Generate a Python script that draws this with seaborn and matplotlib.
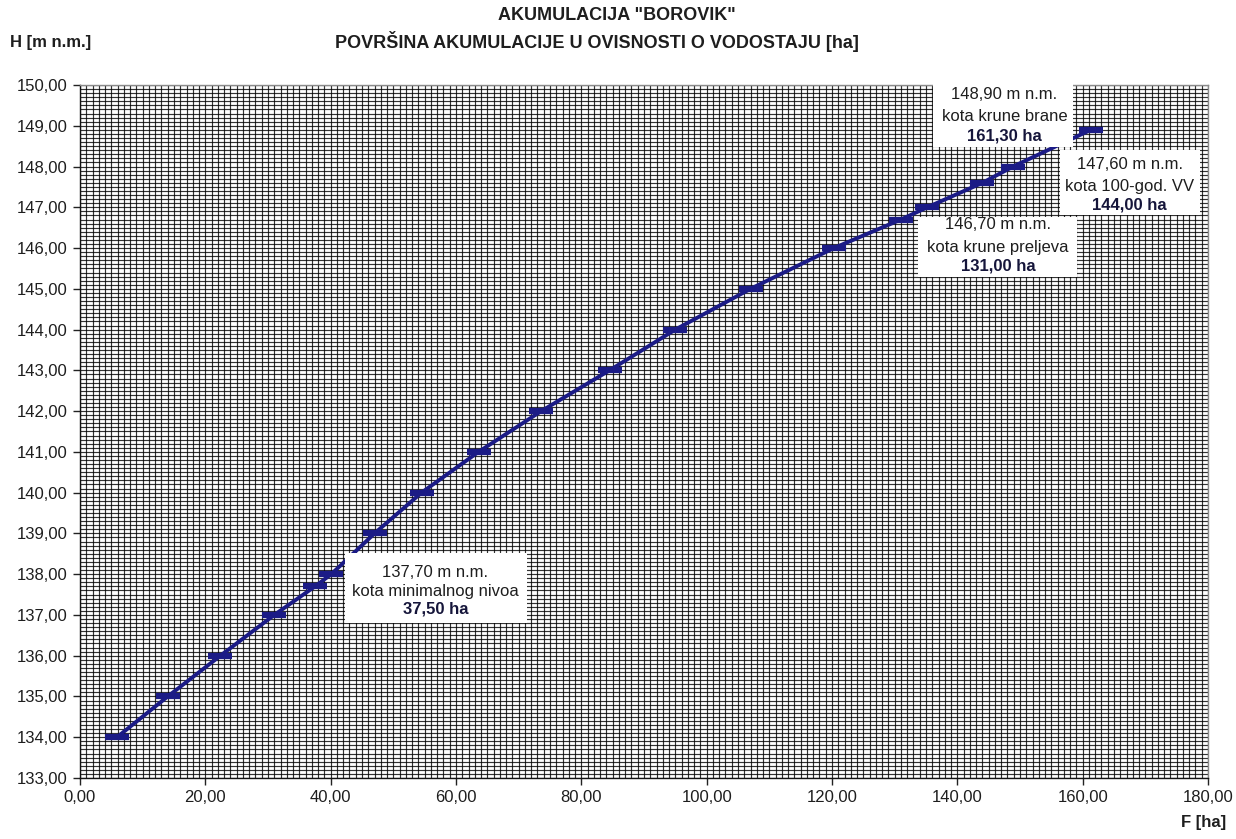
import numpy as np
import matplotlib
matplotlib.use("Agg")
import matplotlib.pyplot as plt
from matplotlib.patches import Rectangle
from matplotlib.ticker import FuncFormatter, MultipleLocator
import seaborn as sns

# Reservoir surface area (ha) versus water level (m a.s.l.)
level_m = [134.0, 135.0, 136.0, 137.0, 137.7, 138.0, 139.0, 140.0, 141.0, 142.0,
           143.0, 144.0, 145.0, 146.0, 146.7, 147.0, 147.6, 148.0, 148.9]
area_ha = [5.9, 14.0, 22.4, 31.0, 37.5, 40.1, 47.0, 54.5, 63.6, 73.6,
           84.5, 95.0, 107.0, 120.3, 131.0, 135.2, 144.0, 148.9, 161.3]

# Characteristic levels shown in the callouts
note_level = ["148,90 m n.m.", "147,60 m n.m.", "146,70 m n.m.", "137,70 m n.m."]
note_name = ["kota krune brane", "kota 100-god. VV", "kota krune preljeva", "kota minimalnog nivoa"]
note_area = ["161,30 ha", "144,00 ha", "131,00 ha", "37,50 ha"]

title = 'AKUMULACIJA "BOROVIK"'
subtitle = "POVRŠINA AKUMULACIJE U OVISNOSTI O VODOSTAJU [ha]"
y_label = "H [m n.m.]"
x_label = "F [ha]"

NAVY = "#1b1b86"
TXT = "#1e1e1e"

sns.set_theme(style="white")
plt.rcParams["font.family"] = ["Liberation Sans", "DejaVu Sans"]

fig = plt.figure(figsize=(12.36, 8.39), dpi=100)
W, H = 1236, 839
ax = fig.add_axes([80 / W, 1 - 778 / H, (1208 - 80) / W, (778 - 85) / H])

ax.set_xlim(0, 180)
ax.set_ylim(133, 150)
ax.xaxis.set_major_locator(MultipleLocator(20))
ax.yaxis.set_major_locator(MultipleLocator(1))
ax.xaxis.set_minor_locator(MultipleLocator(1))
ax.yaxis.set_minor_locator(MultipleLocator(0.1))
fmt = FuncFormatter(lambda v, p: f"{v:.2f}".replace(".", ","))
ax.xaxis.set_major_formatter(fmt)
ax.yaxis.set_major_formatter(fmt)

# dense millimetre-paper style grid
ax.grid(which="both", color="#000000", linewidth=0.85, alpha=0.8)
ax.set_axisbelow(True)
ax.tick_params(which="major", direction="out", length=5, width=1, color="#222222",
               labelsize=12, labelcolor=TXT, pad=4, left=True, bottom=True)
ax.tick_params(which="minor", length=0)
for side in ("left", "bottom"):
    ax.spines[side].set_color("#111111")
    ax.spines[side].set_linewidth(1.0)
for side in ("top", "right"):
    ax.spines[side].set_color("#8a8a8a")
    ax.spines[side].set_linewidth(1.0)

sns.lineplot(x=area_ha, y=level_m, sort=False, estimator=None, ax=ax,
             color=NAVY, linewidth=2.8, marker="_", markersize=17,
             markeredgewidth=4.5, markeredgecolor=NAVY, zorder=4)
ax.set_xlabel("")
ax.set_ylabel("")

# callout boxes: (x0, x1, y0, y1) and text centre / line positions in data units
boxes = [
    (136.1, 158.4, 148.48, 150.12),
    (156.4, 178.7, 146.81, 148.41),
    (133.7, 159.1, 145.29, 146.76),
    (42.3, 71.3, 136.80, 138.52),
]
text_x = [147.5, 167.5, 146.5, 56.7]
text_y = [
    (149.76, 149.23, 148.76),
    (148.04, 147.50, 147.05),
    (146.57, 146.01, 145.55),
    (138.03, 137.57, 137.14),
]
for (x0, x1, y0, y1), tx, ty, a, b, c in zip(boxes, text_x, text_y,
                                             note_level, note_name, note_area):
    ax.add_patch(Rectangle((x0, y0), x1 - x0, y1 - y0, facecolor="white",
                           edgecolor="none", zorder=6, clip_on=False))
    ax.text(tx, ty[0], a, ha="center", va="center", fontsize=12, color=TXT, zorder=7)
    ax.text(tx, ty[1], b, ha="center", va="center", fontsize=12, color=TXT, zorder=7)
    ax.text(tx, ty[2], c, ha="center", va="center", fontsize=12, color="#15153a",
            fontweight="bold", zorder=7)

fig.text(617 / W, 1 - 15 / H, title, ha="center", va="center", fontsize=13,
         fontweight="bold", color=TXT)
fig.text(597 / W, 1 - 42 / H, subtitle, ha="center", va="center", fontsize=13,
         fontweight="bold", color=TXT)
fig.text(10 / W, 1 - 42 / H, y_label, ha="left", va="center", fontsize=12,
         fontweight="bold", color=TXT)
fig.text(1226 / W, 1 - 823 / H, x_label, ha="right", va="center", fontsize=12,
         fontweight="bold", color=TXT)

fig.savefig("out.png", dpi=100, facecolor="white")
